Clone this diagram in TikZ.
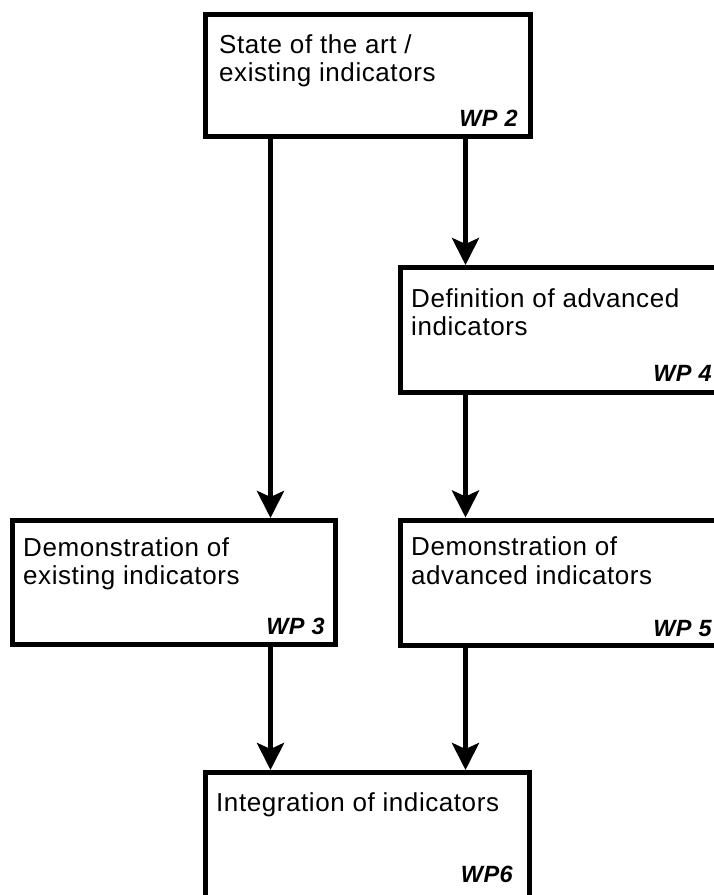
\documentclass[tikz,border=0pt]{standalone}
\usepackage{fontspec}
\setmainfont{Liberation Sans}[LetterSpace=2.2]
\usepackage{tikz}
\usetikzlibrary{arrows.meta}

\tikzset{
  wpbox/.style={draw,rectangle,line width=5pt,inner sep=0pt,minimum width=323pt,minimum height=125pt},
  wptitle/.style={anchor=north west,align=left,inner sep=0pt,font=\fontsize{26}{28.5}\selectfont},
  wplabel/.style={anchor=base east,inner sep=0pt,font=\fontsize{23.5}{26}\selectfont\bfseries\itshape},
  flow/.style={line width=5pt,-{Stealth[length=27pt,width=27pt,inset=6pt]}}
}

\begin{document}
\begin{tikzpicture}[x=1pt,y=-1pt]
  \useasboundingbox (0,0) rectangle (714,895);
  \clip (0,0) rectangle (714,895);

  % work packages
  \node[wpbox,minimum width=325pt,minimum height=121.5pt] (wp2) at (368,75.25) {};
  \node[wpbox] (wp4) at (562,330) {};
  \node[wpbox,minimum height=124pt] (wp3) at (174,582.5) {};
  \node[wpbox] (wp5) at (562,582.5) {};
  \node[wpbox,minimum width=324pt] (wp6) at (367.5,835) {};

  % titles
  \node[wptitle] (t2) at ([shift={(16,22)}]wp2.north west) {State of the art /\\existing indicators};
  \node[wptitle] (t4) at ([shift={(13,23)}]wp4.north west) {Definition of advanced\\indicators};
  \node[wptitle] (t3) at ([shift={(13,19)}]wp3.north west) {Demonstration of\\existing indicators};
  \node[wptitle] (t5) at ([shift={(13,19)}]wp5.north west) {Demonstration of\\advanced indicators};
  \node[wptitle] (t6) at ([shift={(13,22)}]wp6.north west) {Integration of indicators};

  % wp numbers
  \node[wplabel] (l2) at ([shift={(-15,-12)}]wp2.south east) {WP 2};
  \node[wplabel] (l4) at ([shift={(-14,-14)}]wp4.south east) {WP 4};
  \node[wplabel] (l3) at ([shift={(-13,-13)}]wp3.south east) {WP 3};
  \node[wplabel] (l5) at ([shift={(-14,-11)}]wp5.south east) {WP 5};
  \node[wplabel] (l6) at ([shift={(-19,-18)}]wp6.south east) {WP6};

  % arrows
  \coordinate (colL) at (270.5,0);
  \coordinate (colR) at (465.5,0);
  \draw[flow] (wp2.south -| colL) -- (wp3.north -| colL);
  \draw[flow] (wp2.south -| colR) -- (wp4.north -| colR);
  \draw[flow] (wp4.south -| colR) -- (wp5.north -| colR);
  \draw[flow] (wp3.south -| colL) -- (wp6.north -| colL);
  \draw[flow] (wp5.south -| colR) -- (wp6.north -| colR);
\end{tikzpicture}
\end{document}
